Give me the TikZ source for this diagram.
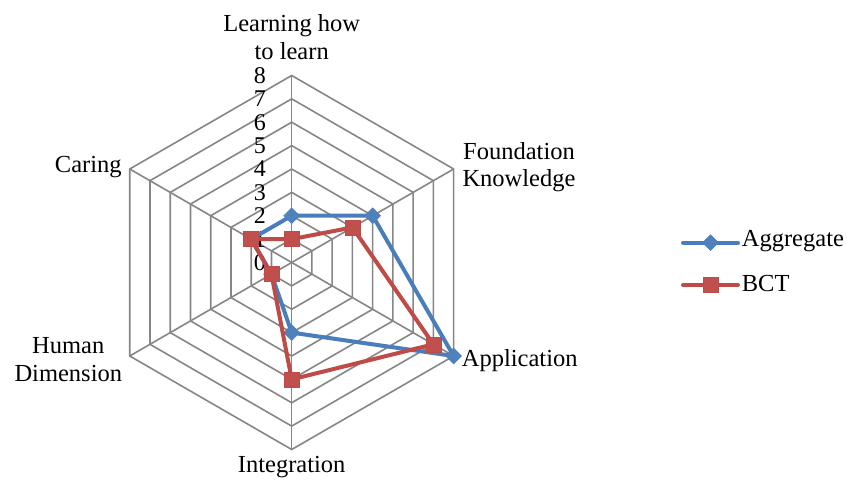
\documentclass[tikz,border=0pt]{standalone}
\usepackage{fontspec}
\setmainfont{Liberation Serif}
\usetikzlibrary{shapes.geometric}
\definecolor{gridgray}{HTML}{868686}
\definecolor{aggblue}{HTML}{4A7EBB}
\definecolor{aggfill}{HTML}{4F81BD}
\definecolor{bctred}{HTML}{BE4B48}
\definecolor{bctfill}{HTML}{C0504D}
\begin{document}
\begin{tikzpicture}[x=1pt,y=1pt,
  gridline/.style={draw=gridgray, line width=1.6pt},
  lbl/.style={font=\fontsize{24.5}{28}\selectfont, inner sep=0pt, align=center},
  ticklbl/.style={font=\fontsize{24}{28}\selectfont, inner sep=0pt, anchor=east},
  aggline/.style={draw=aggblue, line width=4pt, line join=round},
  bctline/.style={draw=bctred, line width=4pt, line join=round},
  aggmark/.style={diamond, fill=aggfill, draw=aggblue, line width=0.5pt, inner sep=0pt, minimum size=16pt},
  bctmark/.style={rectangle, fill=bctfill, draw=bctred, line width=0.5pt, inner sep=0pt, minimum size=15pt}]
\useasboundingbox (-291.7,-222.5) rectangle (555.3,262.5);
\def\u{23.375}
\coordinate (O) at (0,0);
% grid rings
\foreach \k in {1,...,8}
  \draw[gridline] (90:{\k*\u}) -- (30:{\k*\u}) -- (-30:{\k*\u}) -- (-90:{\k*\u}) -- (-150:{\k*\u}) -- (150:{\k*\u}) -- cycle;
% spokes
\foreach \n/\a in {v1/90,v2/30,v3/-30,v4/-90,v5/-150,v6/150} {
  \coordinate (\n) at (\a:{8*\u});
  \draw[gridline] (O) -- (\n);
}
% tick labels
\foreach \k in {0,...,8}
  \node[ticklbl] (t\k) at (-25.7,{\k*\u}) {\k};
% axis labels (base = baseline of last line)
\node[lbl, anchor=base] (lhl) at (0,202.5) {Learning how\\to learn};
\node[lbl, anchor=base] (fk) at (227.3,75.5) {Foundation\\Knowledge};
\node[lbl, anchor=base west] (app) at (170,-104.2) {Application};
\node[lbl, anchor=base] (integ) at (0,-210.2) {Integration};
\node[lbl, anchor=base] (hd) at (-223.4,-118.5) {Human\\Dimension};
\node[lbl, anchor=base] (car) at (-203.4,89.5) {Caring};
% data points
\foreach \n/\a/\v in {a1/90/2,a2/30/4,a3/-30/8,a4/-90/3,a5/-150/1,a6/150/2}
  \coordinate (\n) at (\a:{\v*\u});
\foreach \n/\a/\v in {b1/90/1,b2/30/3,b3/-30/7,b4/-90/5,b5/-150/1,b6/150/2}
  \coordinate (\n) at (\a:{\v*\u});
% Aggregate series
\draw[aggline] (a1) -- (a2) -- (a3) -- (a4) -- (a5) -- (a6) -- cycle;
\foreach \n in {a1,a2,a3,a4,a5,a6}
  \node[aggmark] (m\n) at (\n) {};
% BCT series
\draw[bctline] (b1) -- (b2) -- (b3) -- (b4) -- (b5) -- (b6) -- cycle;
\foreach \n in {b1,b2,b3,b4,b5,b6}
  \node[bctmark] (m\n) at (\n) {};
% legend
\coordinate (la1) at (391.3,19.8);
\coordinate (la2) at (446.3,19.8);
\draw[aggline, line cap=round] (la1) -- (la2);
\node[aggmark] (lam) at (418.8,19.8) {};
\node[lbl, anchor=base west] (lat) at (450,15.8) {Aggregate};
\coordinate (lb1) at (391.3,-22.5);
\coordinate (lb2) at (446.3,-22.5);
\draw[bctline, line cap=round] (lb1) -- (lb2);
\node[bctmark] (lbm) at (418.8,-22.5) {};
\node[lbl, anchor=base west] (lbt) at (450,-29.2) {BCT};
\end{tikzpicture}
\end{document}
